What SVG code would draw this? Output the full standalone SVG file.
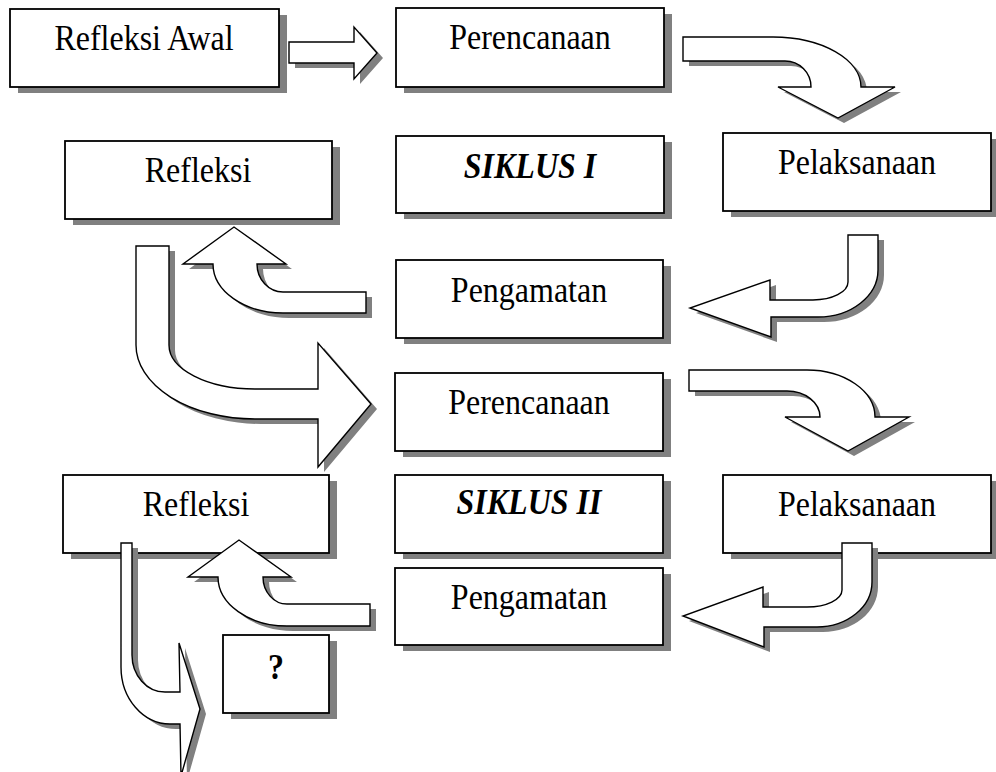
<svg xmlns="http://www.w3.org/2000/svg" xmlns:xlink="http://www.w3.org/1999/xlink" width="996" height="772" viewBox="0 0 996 772">
<style>
  .box { fill: #ffffff; stroke: #000000; stroke-width: 1.8; }
  .bshadow { fill: #808080; }
  .arrow { fill: #ffffff; stroke: #000000; stroke-width: 1.4; stroke-linejoin: miter; }
  .ashadow { fill: #808080; }
  .lbl { font-family: "Liberation Serif", "Times New Roman", serif; font-size: 32px; fill: #000000; text-anchor: middle; }
  .bi { font-weight: bold; font-style: italic; }
  .b { font-weight: bold; }
</style>
<defs>
  <path id="a1" d="M 289,42 L 354,42 L 354,27 L 377,53 L 354,79 L 354,63 L 289,63 Z"/>
  <path id="a2" d="M 683,37 L 773,37 A 88,50 0 0 1 861,87 L 895,87 L 838,118 L 778,87 L 811,87 A 26,26 0 0 0 785,61 L 683,61 Z"/>
  <path id="a3" d="M 848,235 L 878,235 L 878,270 A 60,47 0 0 1 818,317 L 771,317 L 771,337 L 690,308 L 770,280 L 770,300 L 813,300 A 35,18 0 0 0 848,282 Z"/>
  <path id="a4" d="M 366,292 L 283,292 A 26,28 0 0 1 257,264 L 286,264 L 234,227 L 183,264 L 213,264 A 70,49 0 0 0 283,313 L 366,313 Z"/>
  <path id="a5" d="M 136,246 L 169,246 L 169,345 A 86,44 0 0 0 255,389 L 318,389 L 318,343 L 371,404 L 318,467 L 318,419 L 255,419 A 119,74 0 0 1 136,345 Z"/>
  <path id="a6" d="M 689,370 L 807,370 A 68,47 0 0 1 875,417 L 909,417 L 848,451 L 785,417 L 820,417 A 33,26 0 0 0 787,391 L 689,391 Z"/>
  <path id="a7" d="M 842,543 L 872,543 L 872,582 A 55,45 0 0 1 817,627 L 764,627 L 764,647 L 683,616 L 763,587 L 763,607 L 807,607 A 35,17 0 0 0 842,590 Z"/>
  <path id="a8" d="M 370,604 L 287,604 A 24,27 0 0 1 263,577 L 291,577 L 239,540 L 188,577 L 218,577 A 69,49 0 0 0 287,626 L 370,626 Z"/>
  <path id="a9" d="M 121,543 L 132,543 L 132,655 A 33,37 0 0 0 165,692 L 180,692 L 179,643 L 200,709 L 181,776 L 180,724 L 170,724 A 49,57 0 0 1 121,667 Z"/>
</defs>
<rect x="0" y="0" width="996" height="772" fill="#ffffff"/>

<g id="nodes">
  <g id="refleksi-awal">
    <rect class="bshadow" x="18" y="15" width="269" height="78"/>
    <rect class="box" x="10" y="9" width="269" height="78"/>
    <text class="lbl" transform="translate(144,50) scale(1,1.13)">Refleksi Awal</text>
  </g>
  <g id="perencanaan-1">
    <rect class="bshadow" x="404" y="14" width="268" height="79"/>
    <rect class="box" x="396" y="8" width="268" height="79"/>
    <text class="lbl" transform="translate(530,49) scale(1,1.13)">Perencanaan</text>
  </g>
  <g id="refleksi-1">
    <rect class="bshadow" x="73" y="147" width="267" height="78"/>
    <rect class="box" x="65" y="141" width="267" height="78"/>
    <text class="lbl" transform="translate(198,182) scale(1,1.13)">Refleksi</text>
  </g>
  <g id="siklus-1">
    <rect class="bshadow" x="404" y="142" width="268" height="77"/>
    <rect class="box" x="396" y="136" width="268" height="77"/>
    <text class="lbl bi" transform="translate(530,178) scale(1,1.13)">SIKLUS I</text>
  </g>
  <g id="pelaksanaan-1">
    <rect class="bshadow" x="731" y="139" width="268" height="78"/>
    <rect class="box" x="723" y="133" width="268" height="78"/>
    <text class="lbl" transform="translate(857,174) scale(1,1.13)">Pelaksanaan</text>
  </g>
  <g id="pengamatan-1">
    <rect class="bshadow" x="404" y="266" width="267" height="78"/>
    <rect class="box" x="396" y="260" width="267" height="78"/>
    <text class="lbl" transform="translate(529,302) scale(1,1.13)">Pengamatan</text>
  </g>
  <g id="perencanaan-2">
    <rect class="bshadow" x="403" y="379" width="268" height="78"/>
    <rect class="box" x="395" y="373" width="268" height="78"/>
    <text class="lbl" transform="translate(529,414) scale(1,1.13)">Perencanaan</text>
  </g>
  <g id="refleksi-2">
    <rect class="bshadow" x="71" y="481" width="266" height="78"/>
    <rect class="box" x="63" y="475" width="266" height="78"/>
    <text class="lbl" transform="translate(196,516) scale(1,1.13)">Refleksi</text>
  </g>
  <g id="siklus-2">
    <rect class="bshadow" x="403" y="481" width="268" height="78"/>
    <rect class="box" x="395" y="475" width="268" height="78"/>
    <text class="lbl bi" transform="translate(529,514) scale(1,1.13)">SIKLUS II</text>
  </g>
  <g id="pelaksanaan-2">
    <rect class="bshadow" x="731" y="481" width="268" height="78"/>
    <rect class="box" x="723" y="475" width="268" height="78"/>
    <text class="lbl" transform="translate(857,516) scale(1,1.13)">Pelaksanaan</text>
  </g>
  <g id="pengamatan-2">
    <rect class="bshadow" x="403" y="574" width="268" height="77"/>
    <rect class="box" x="395" y="568" width="268" height="77"/>
    <text class="lbl" transform="translate(529,609) scale(1,1.13)">Pengamatan</text>
  </g>
  <g id="tanya">
    <rect class="bshadow" x="231" y="641" width="106" height="78"/>
    <rect class="box" x="223" y="635" width="106" height="78"/>
    <text class="lbl b" transform="translate(276,679) scale(1,1.13)">?</text>
  </g>
</g>

<g id="connectors">
  <use xlink:href="#a1" href="#a1" class="ashadow" transform="translate(6,5)"/>
  <use xlink:href="#a1" href="#a1" class="arrow"/>
  <use xlink:href="#a2" href="#a2" class="ashadow" transform="translate(6,5)"/>
  <use xlink:href="#a2" href="#a2" class="arrow"/>
  <use xlink:href="#a3" href="#a3" class="ashadow" transform="translate(6,5)"/>
  <use xlink:href="#a3" href="#a3" class="arrow"/>
  <use xlink:href="#a4" href="#a4" class="ashadow" transform="translate(6,5)"/>
  <use xlink:href="#a4" href="#a4" class="arrow"/>
  <use xlink:href="#a5" href="#a5" class="ashadow" transform="translate(6,5)"/>
  <use xlink:href="#a5" href="#a5" class="arrow"/>
  <use xlink:href="#a6" href="#a6" class="ashadow" transform="translate(6,5)"/>
  <use xlink:href="#a6" href="#a6" class="arrow"/>
  <use xlink:href="#a7" href="#a7" class="ashadow" transform="translate(6,5)"/>
  <use xlink:href="#a7" href="#a7" class="arrow"/>
  <use xlink:href="#a8" href="#a8" class="ashadow" transform="translate(6,5)"/>
  <use xlink:href="#a8" href="#a8" class="arrow"/>
  <use xlink:href="#a9" href="#a9" class="ashadow" transform="translate(6,5)"/>
  <use xlink:href="#a9" href="#a9" class="arrow"/>
</g>
</svg>
